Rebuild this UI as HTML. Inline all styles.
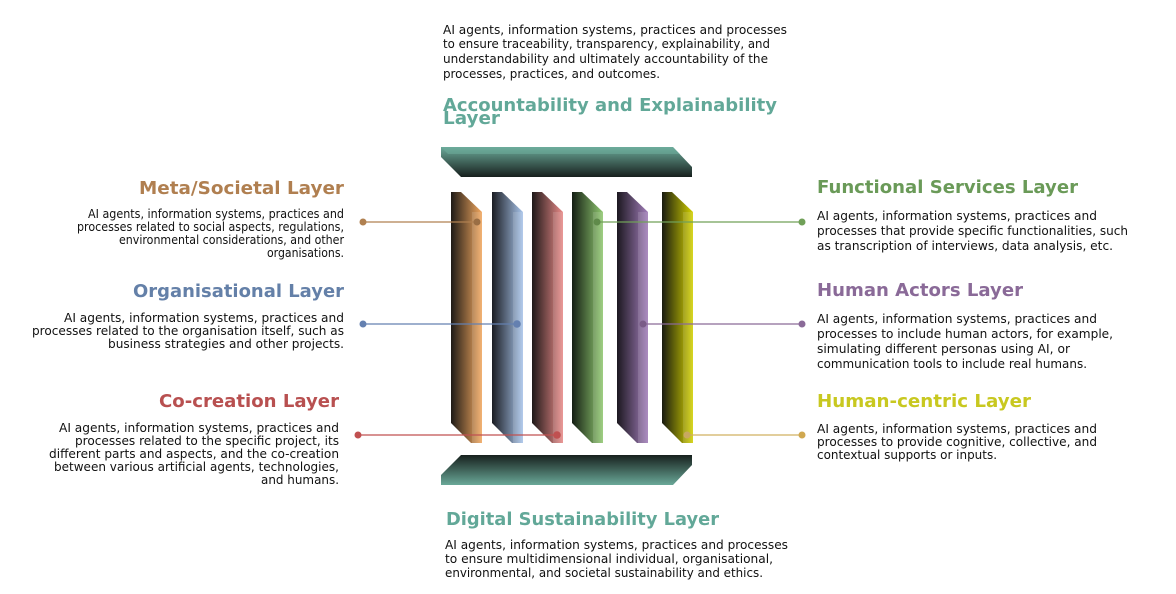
<!DOCTYPE html>
<html><head><meta charset="utf-8"><style>
html,body{margin:0;padding:0;background:#fff;width:1176px;height:594px;overflow:hidden}
svg{display:block}
.b{font-family:"DejaVu Sans","Liberation Sans",sans-serif;font-size:12.8px;fill:#111}
.h{font-family:"DejaVu Sans","Liberation Sans",sans-serif;font-size:18px;font-weight:bold}
</style></head><body>
<svg width="1176" height="594" viewBox="0 0 1176 594" xmlns="http://www.w3.org/2000/svg">
<defs>
<linearGradient id="tb" x1="0" y1="0" x2="0" y2="1"><stop offset="0" stop-color="#6aa898"/><stop offset="1" stop-color="#17201d"/></linearGradient>
<linearGradient id="bb" x1="0" y1="0" x2="0" y2="1"><stop offset="0" stop-color="#17201d"/><stop offset="1" stop-color="#6aa898"/></linearGradient>
<linearGradient id="g1" x1="0" y1="0" x2="1" y2="0"><stop offset="0" stop-color="#1e1a16"/><stop offset="1" stop-color="#f2a860"/></linearGradient>
<linearGradient id="g2" x1="0" y1="0" x2="1" y2="0"><stop offset="0" stop-color="#1a1c22"/><stop offset="1" stop-color="#a8c4ea"/></linearGradient>
<linearGradient id="g3" x1="0" y1="0" x2="1" y2="0"><stop offset="0" stop-color="#1e1818"/><stop offset="1" stop-color="#e88a88"/></linearGradient>
<linearGradient id="g4" x1="0" y1="0" x2="1" y2="0"><stop offset="0" stop-color="#141e14"/><stop offset="1" stop-color="#90c870"/></linearGradient>
<linearGradient id="g5" x1="0" y1="0" x2="1" y2="0"><stop offset="0" stop-color="#1c1820"/><stop offset="1" stop-color="#a07cb8"/></linearGradient>
<linearGradient id="g6" x1="0" y1="0" x2="1" y2="0"><stop offset="0" stop-color="#181a10"/><stop offset="1" stop-color="#d2d000"/></linearGradient>
</defs>
<polygon points="441,147 673,147 692,167 692,177 461,177 441,157" fill="url(#tb)"/>
<polygon points="441,147 673,147 680,154 448,154" fill="#6fb0a0" opacity="0.5"/>
<polygon points="461,455 692,455 692,465 673,485 441,485 441,475" fill="url(#bb)"/>
<g>
<polygon points="451,192 461,192 482,212 482,443 471,443 451,423" fill="url(#g1)"/>
<polygon points="492,192 502,192 523,212 523,443 512,443 492,423" fill="url(#g2)"/>
<polygon points="532,192 542,192 563,212 563,443 552,443 532,423" fill="url(#g3)"/>
<polygon points="572,192 582,192 603,212 603,443 592,443 572,423" fill="url(#g4)"/>
<polygon points="617,192 627,192 648,212 648,443 637,443 617,423" fill="url(#g5)"/>
<polygon points="662,192 672,192 693,212 693,443 682,443 662,423" fill="url(#g6)"/>
<g fill="#fff" opacity="0.12">
<rect x="472" y="212" width="10" height="231"/><rect x="513" y="212" width="10" height="231"/><rect x="553" y="212" width="10" height="231"/><rect x="593" y="212" width="10" height="231"/><rect x="638" y="212" width="10" height="231"/><rect x="683" y="212" width="10" height="231"/>
</g>
</g>
<g stroke-width="1.3">
<line x1="363" y1="222" x2="477" y2="222" stroke="#b08050"/>
<circle cx="363" cy="222" r="3.5" fill="#b08050"/><circle cx="477" cy="222" r="3.5" fill="#9a6e44"/>
<line x1="363" y1="324" x2="517" y2="324" stroke="#6480b0"/>
<circle cx="363" cy="324" r="3.5" fill="#6480b0"/><circle cx="517" cy="324" r="3.8" fill="#6480b0"/>
<line x1="358" y1="435" x2="557" y2="435" stroke="#c05050"/>
<circle cx="358" cy="435" r="3.5" fill="#c05050"/><circle cx="557" cy="435" r="3.8" fill="#c05050"/>
<line x1="597" y1="222" x2="802" y2="222" stroke="#70a058"/>
<circle cx="597" cy="222" r="3.5" fill="#5f8a4a"/><circle cx="802" cy="222" r="3.5" fill="#70a058"/>
<line x1="643" y1="324" x2="802" y2="324" stroke="#8a6a98"/>
<circle cx="643" cy="324" r="3.5" fill="#7a5c88"/><circle cx="802" cy="324" r="3.5" fill="#8a6a98"/>
<line x1="687" y1="435" x2="802" y2="435" stroke="#d0b060"/>
<circle cx="687" cy="435" r="3.5" fill="#c8a860"/><circle cx="802" cy="435" r="3.5" fill="#d0a850"/>
</g>
<text class="b" x="443" y="34" textLength="344" lengthAdjust="spacingAndGlyphs">AI agents, information systems, practices and processes</text>
<text class="b" x="443" y="48" textLength="327" lengthAdjust="spacingAndGlyphs">to ensure traceability, transparency, explainability, and</text>
<text class="b" x="443" y="63" textLength="325" lengthAdjust="spacingAndGlyphs">understandability and ultimately accountability of the</text>
<text class="b" x="443" y="78" textLength="217" lengthAdjust="spacingAndGlyphs">processes, practices, and outcomes.</text>
<text class="h" fill="#62a898" x="443" y="111" textLength="334" lengthAdjust="spacingAndGlyphs">Accountability and Explainability</text>
<text class="h" fill="#62a898" x="443" y="124" textLength="57" lengthAdjust="spacingAndGlyphs">Layer</text>
<text class="h" fill="#62a898" x="446" y="525" textLength="273" lengthAdjust="spacingAndGlyphs">Digital Sustainability Layer</text>
<text class="b" x="445" y="549" textLength="343" lengthAdjust="spacingAndGlyphs">AI agents, information systems, practices and processes</text>
<text class="b" x="445" y="563" textLength="328" lengthAdjust="spacingAndGlyphs">to ensure multidimensional individual, organisational,</text>
<text class="b" x="445" y="577" textLength="318" lengthAdjust="spacingAndGlyphs">environmental, and societal sustainability and ethics.</text>
<g text-anchor="end">
<text class="h" fill="#b07f50" x="344" y="194" textLength="205" lengthAdjust="spacingAndGlyphs">Meta/Societal Layer</text>
<text class="b" x="344" y="218" textLength="256" lengthAdjust="spacingAndGlyphs">AI agents, information systems, practices and</text>
<text class="b" x="344" y="231" textLength="267" lengthAdjust="spacingAndGlyphs">processes related to social aspects, regulations,</text>
<text class="b" x="344" y="244" textLength="225" lengthAdjust="spacingAndGlyphs">environmental considerations, and other</text>
<text class="b" x="344" y="257" textLength="77" lengthAdjust="spacingAndGlyphs">organisations.</text>
<text class="h" fill="#6480a8" x="344" y="297" textLength="211" lengthAdjust="spacingAndGlyphs">Organisational Layer</text>
<text class="b" x="344" y="322" textLength="280" lengthAdjust="spacingAndGlyphs">AI agents, information systems, practices and</text>
<text class="b" x="344" y="335" textLength="312" lengthAdjust="spacingAndGlyphs">processes related to the organisation itself, such as</text>
<text class="b" x="344" y="348" textLength="236" lengthAdjust="spacingAndGlyphs">business strategies and other projects.</text>
<text class="h" fill="#b85050" x="339" y="407" textLength="180" lengthAdjust="spacingAndGlyphs">Co-creation Layer</text>
<text class="b" x="339" y="432" textLength="280" lengthAdjust="spacingAndGlyphs">AI agents, information systems, practices and</text>
<text class="b" x="339" y="445" textLength="264" lengthAdjust="spacingAndGlyphs">processes related to the specific project, its</text>
<text class="b" x="339" y="458" textLength="290" lengthAdjust="spacingAndGlyphs">different parts and aspects, and the co-creation</text>
<text class="b" x="339" y="471" textLength="285" lengthAdjust="spacingAndGlyphs">between various artificial agents, technologies,</text>
<text class="b" x="339" y="484" textLength="78" lengthAdjust="spacingAndGlyphs">and humans.</text>
</g>
<text class="h" fill="#6a9a58" x="817" y="193" textLength="261" lengthAdjust="spacingAndGlyphs">Functional Services Layer</text>
<text class="b" x="817" y="220" textLength="280" lengthAdjust="spacingAndGlyphs">AI agents, information systems, practices and</text>
<text class="b" x="817" y="235" textLength="311" lengthAdjust="spacingAndGlyphs">processes that provide specific functionalities, such</text>
<text class="b" x="817" y="250" textLength="296" lengthAdjust="spacingAndGlyphs">as transcription of interviews, data analysis, etc.</text>
<text class="h" fill="#8a6a98" x="817" y="296" textLength="206" lengthAdjust="spacingAndGlyphs">Human Actors Layer</text>
<text class="b" x="817" y="323" textLength="280" lengthAdjust="spacingAndGlyphs">AI agents, information systems, practices and</text>
<text class="b" x="817" y="338" textLength="296" lengthAdjust="spacingAndGlyphs">processes to include human actors, for example,</text>
<text class="b" x="817" y="353" textLength="253" lengthAdjust="spacingAndGlyphs">simulating different personas using AI, or</text>
<text class="b" x="817" y="368" textLength="270" lengthAdjust="spacingAndGlyphs">communication tools to include real humans.</text>
<text class="h" fill="#c8c820" x="817" y="407" textLength="214" lengthAdjust="spacingAndGlyphs">Human-centric Layer</text>
<text class="b" x="817" y="433" textLength="280" lengthAdjust="spacingAndGlyphs">AI agents, information systems, practices and</text>
<text class="b" x="817" y="446" textLength="280" lengthAdjust="spacingAndGlyphs">processes to provide cognitive, collective, and</text>
<text class="b" x="817" y="459" textLength="180" lengthAdjust="spacingAndGlyphs">contextual supports or inputs.</text>
</svg>
</body></html>
